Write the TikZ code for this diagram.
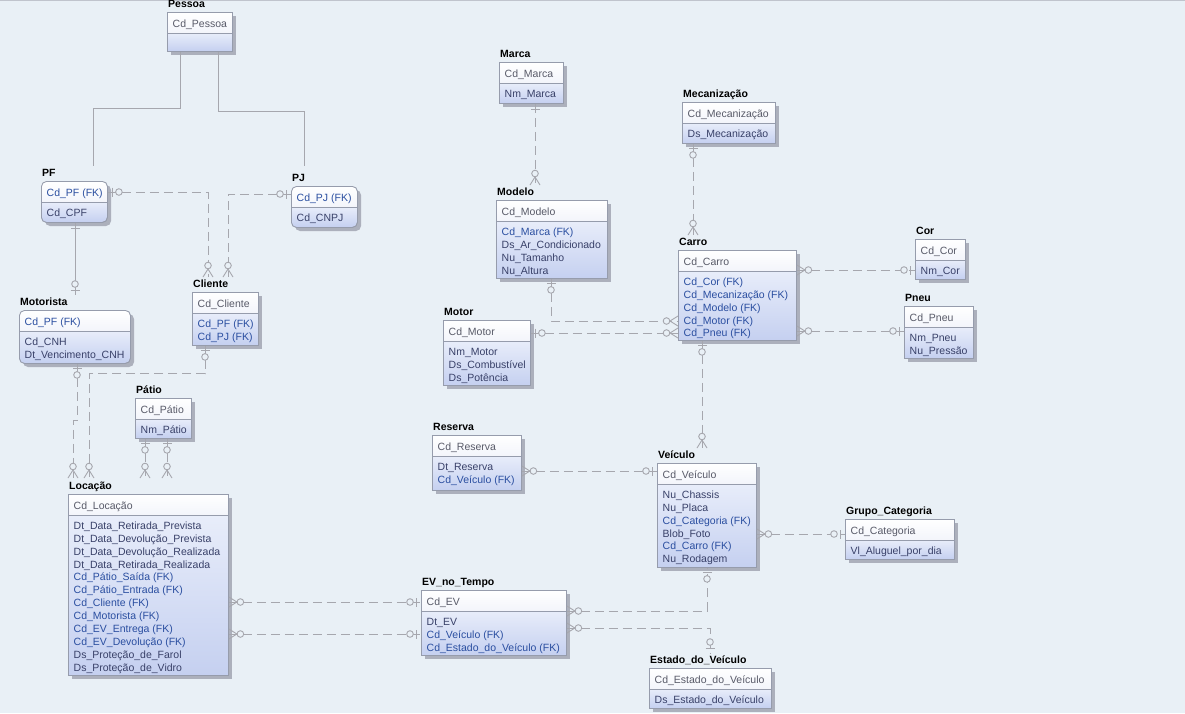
\documentclass[tikz,border=0pt]{standalone}
\usepackage{fontspec}
\setmainfont{Liberation Sans}
\usetikzlibrary{calc}

\definecolor{bgc}{RGB}{233,240,246}
\definecolor{linec}{RGB}{166,167,174}
\definecolor{boxc}{RGB}{150,156,172}
\definecolor{shadowc}{RGB}{172,176,188}
\definecolor{keyb}{RGB}{243,245,251}
\definecolor{attrt}{RGB}{232,237,250}
\definecolor{attrb}{RGB}{197,208,240}
\definecolor{keytxt}{RGB}{88,90,104}
\definecolor{attrtxt}{RGB}{56,64,104}
\definecolor{fktxt}{RGB}{42,78,160}

\tikzset{
  title/.style={font=\fontsize{10.5}{12.9}\selectfont\bfseries, text=black, inner sep=0pt},
  txt/.style={inner sep=0pt},
  txtk/.style={txt, text=keytxt},
  txta/.style={txt, text=attrtxt},
  txtf/.style={txt, text=fktxt},
  rel/.style={draw=linec, line width=1pt, dash pattern=on 9pt off 5pt},
  solidrel/.style={draw=linec, line width=1pt},
  symline/.style={draw=linec, line width=0.9pt, solid},
  symzo/.pic={\draw[symline] (4.5,-4.5) -- (4.5,4.5);
              \draw[symline, fill=bgc] (11,0) circle[radius=3.3];},
  symone/.pic={\draw[symline] (6,-4.5) -- (6,4.5);},
  symzm/.pic={\draw[symline] (0,-5) -- (8,0) -- (0,5);
              \draw[symline, fill=bgc] (11.5,0) circle[radius=3.3];},
  roundbox/.style={rounded corners=5pt}
}

% \erbox[options]{name}{x1}{y1}{x2}{y2}{title}{key row}{attribute rows}
\newcommand\erbox[9][]{%
  \pgfmathsetmacro\erbw{#5-#3}\pgfmathsetmacro\erbh{#6-#4}%
  \fill[shadowc,#1] (#3+4,#4+4) rectangle (#5+4,#6+4);
  \begin{scope}
    \clip[#1] (#3,#4) rectangle (#5,#6);
    \shade[top color=white, bottom color=keyb] (#3,#4) rectangle (#5,#4+21);
    \shade[top color=attrt, bottom color=attrb] (#3,#4+21) rectangle (#5,#6);
  \end{scope}
  \draw[boxc, line width=0.8pt] (#3,#4+21) -- (#5,#4+21);
  \node[draw=boxc, line width=0.9pt, #1, inner sep=0pt, minimum width=\erbw pt,
        minimum height=\erbh pt, anchor=north west] (#2) at (#3,#4) {};
  \node[title, anchor=base west] (#2-t) at (#3+1,#4-4.5) {#7};
  \foreach \s/\t in {#8} {\node[txt\s, anchor=base west] at (#3+5.5,#4+15) {\t};}
  \foreach \s/\t [count=\i] in {#9}
    {\node[txt\s, anchor=base west] at ({#3+5.5},{#4+35.3+(\i-1)*12.9}) {\t};}
}

\begin{document}
\catcode`\_=12
\begin{tikzpicture}[x=1pt, y=-1pt, font=\fontsize{10.5}{12.9}\selectfont]
\useasboundingbox (0,0) rectangle (1185,713);
\fill[bgc] (0,0) rectangle (1185,713);
\draw[boxc!60, line width=1pt] (0,0.5) -- (1185,0.5);

% entities
\erbox{pessoa}{167}{12}{232}{51}{Pessoa}{k/Cd_Pessoa}{}
\erbox[roundbox]{pf}{41}{181}{107}{222}{PF}{f/Cd_PF (FK)}{a/Cd_CPF}
\erbox[roundbox]{pj}{291}{186}{357}{227}{PJ}{f/Cd_PJ (FK)}{a/Cd_CNPJ}
\erbox[roundbox]{motorista}{19}{310}{130}{363}{Motorista}{f/Cd_PF (FK)}{a/Cd_CNH, a/Dt_Vencimento_CNH}
\erbox{cliente}{192}{292}{258}{345}{Cliente}{k/Cd_Cliente}{f/Cd_PF (FK), f/Cd_PJ (FK)}
\erbox{patio}{135}{398}{191}{438}{Pátio}{k/Cd_Pátio}{a/Nm_Pátio}
\erbox{locacao}{68}{494}{228}{675}{Locação}{k/Cd_Locação}{a/Dt_Data_Retirada_Prevista,
  a/Dt_Data_Devolução_Prevista, a/Dt_Data_Devolução_Realizada, a/Dt_Data_Retirada_Realizada,
  f/Cd_Pátio_Saída (FK), f/Cd_Pátio_Entrada (FK), f/Cd_Cliente (FK), f/Cd_Motorista (FK),
  f/Cd_EV_Entrega (FK), f/Cd_EV_Devolução (FK), a/Ds_Proteção_de_Farol, a/Ds_Proteção_de_Vidro}
\erbox{ev}{421}{590}{566}{655}{EV_no_Tempo}{k/Cd_EV}{a/Dt_EV, f/Cd_Veículo (FK), f/Cd_Estado_do_Veículo (FK)}
\erbox{estado}{649}{668}{771}{708}{Estado_do_Veículo}{k/Cd_Estado_do_Veículo}{a/Ds_Estado_do_Veículo}
\erbox{veiculo}{657}{463}{756}{567}{Veículo}{k/Cd_Veículo}{a/Nu_Chassis, a/Nu_Placa,
  f/Cd_Categoria (FK), a/Blob_Foto, f/Cd_Carro (FK), a/Nu_Rodagem}
\erbox{reserva}{432}{435}{521}{490}{Reserva}{k/Cd_Reserva}{a/Dt_Reserva, f/Cd_Veículo (FK)}
\erbox{grupo}{845}{519}{954}{559}{Grupo_Categoria}{k/Cd_Categoria}{a/Vl_Aluguel_por_dia}
\erbox{marca}{499}{62}{563}{103}{Marca}{k/Cd_Marca}{a/Nm_Marca}
\erbox{mec}{682}{102}{775}{143}{Mecanização}{k/Cd_Mecanização}{a/Ds_Mecanização}
\erbox{modelo}{496}{200}{607}{278}{Modelo}{k/Cd_Modelo}{f/Cd_Marca (FK), a/Ds_Ar_Condicionado,
  a/Nu_Tamanho, a/Nu_Altura}
\erbox{carro}{678}{250}{796}{340}{Carro}{k/Cd_Carro}{f/Cd_Cor (FK), f/Cd_Mecanização (FK),
  f/Cd_Modelo (FK), f/Cd_Motor (FK), f/Cd_Pneu (FK)}
\erbox{motor}{443}{320}{530}{385}{Motor}{k/Cd_Motor}{a/Nm_Motor, a/Ds_Combustível, a/Ds_Potência}
\erbox{cor}{915}{239}{965}{279}{Cor}{k/Cd_Cor}{a/Nm_Cor}
\erbox{pneu}{904}{306}{973}{358}{Pneu}{k/Cd_Pneu}{a/Nm_Pneu, a/Nu_Pressão}

% generalisation of Pessoa
\draw[solidrel] ([xshift=13pt]pessoa.south west) -- ++(0,57) -| ([shift={(52pt,15pt)}]pf.north west);
\draw[solidrel] ([xshift=51pt]pessoa.south west) -- ++(0,60) -| ([shift={(13pt,20pt)}]pj.north west);

% PF - Motorista (identifying)
\draw[solidrel] ([xshift=34pt]pf.south west) coordinate (s3) -- ([shift={(56pt,15pt)}]motorista.north west) coordinate (e3);
\pic[rotate=-90] at (s3) {symone}; \pic[rotate=90] at (e3) {symzo};

% PF / PJ - Cliente
\draw[rel] ([yshift=-11pt]pf.north east) coordinate (s4) -| ([shift={(16pt,15pt)}]cliente.north west) coordinate (e4);
\pic at (s4) {symzo}; \pic[rotate=90] at (e4) {symzm};
\draw[rel] ([yshift=-8pt]pj.north west) coordinate (s5) -| ([shift={(36pt,15pt)}]cliente.north west) coordinate (e5);
\pic[rotate=180] at (s5) {symzo}; \pic[rotate=90] at (e5) {symzm};

% Motorista / Cliente / Pátio - Locação
\draw[rel] ([xshift=58pt]motorista.south west) coordinate (s6) -- ++(0,57) -| ([shift={(5pt,16pt)}]locacao.north west) coordinate (e6);
\pic[rotate=-90] at (s6) {symzo}; \pic[rotate=90] at (e6) {symzm};
\draw[rel] ([xshift=13pt]cliente.south west) coordinate (s7) -- ++(0,28) -| ([shift={(21pt,16pt)}]locacao.north west) coordinate (e7);
\pic[rotate=-90] at (s7) {symzo}; \pic[rotate=90] at (e7) {symzm};
\draw[rel] ([xshift=10pt]patio.south west) coordinate (s8) -- ([shift={(77pt,16pt)}]locacao.north west) coordinate (e8);
\pic[rotate=-90] at (s8) {symzo}; \pic[rotate=90] at (e8) {symzm};
\draw[rel] ([xshift=32pt]patio.south west) coordinate (s9) -- ([shift={(99pt,16pt)}]locacao.north west) coordinate (e9);
\pic[rotate=-90] at (s9) {symzo}; \pic[rotate=90] at (e9) {symzm};

% Locação - EV_no_Tempo
\draw[rel] ([yshift=-108pt]locacao.north east) coordinate (s10) -- ([yshift=-12pt]ev.north west) coordinate (e10);
\pic at (s10) {symzm}; \pic[rotate=180] at (e10) {symzo};
\draw[rel] ([yshift=-140pt]locacao.north east) coordinate (s11) -- ([yshift=-44pt]ev.north west) coordinate (e11);
\pic at (s11) {symzm}; \pic[rotate=180] at (e11) {symzo};

% EV_no_Tempo - Veículo / Estado_do_Veículo
\draw[rel] ([yshift=-21pt]ev.north east) coordinate (s12) -| ([xshift=50pt]veiculo.south west) coordinate (e12);
\pic at (s12) {symzm}; \pic[rotate=-90] at (e12) {symzo};
\draw[rel] ([yshift=-38pt]ev.north east) coordinate (s13) -| ([shift={(61pt,15pt)}]estado.north west) coordinate (e13);
\pic at (s13) {symzm}; \pic[rotate=90] at (e13) {symzo};

% Reserva - Veículo, Veículo - Grupo_Categoria
\draw[rel] ([yshift=-36pt]reserva.north east) coordinate (s14) -- ([yshift=-8pt]veiculo.north west) coordinate (e14);
\pic at (s14) {symzm}; \pic[rotate=180] at (e14) {symzo};
\draw[rel] ([yshift=-71pt]veiculo.north east) coordinate (s15) -- ([yshift=-15pt]grupo.north west) coordinate (e15);
\pic at (s15) {symzm}; \pic[rotate=180] at (e15) {symzo};

% Carro and its parents
\draw[rel] ([xshift=24pt]carro.south west) coordinate (s16) -- ([shift={(45pt,15pt)}]veiculo.north west) coordinate (e16);
\pic[rotate=-90] at (s16) {symzo}; \pic[rotate=90] at (e16) {symzm};
\draw[rel] ([yshift=-20pt]carro.north east) coordinate (s17) -- ([yshift=-31pt]cor.north west) coordinate (e17);
\pic at (s17) {symzm}; \pic[rotate=180] at (e17) {symzo};
\draw[rel] ([yshift=-81pt]carro.north east) coordinate (s18) -- ([yshift=-25pt]pneu.north west) coordinate (e18);
\pic at (s18) {symzm}; \pic[rotate=180] at (e18) {symzo};
\draw[rel] ([xshift=55pt]modelo.south west) coordinate (s19) |- ([yshift=-71pt]carro.north west) coordinate (e19);
\pic[rotate=-90] at (s19) {symzo}; \pic[rotate=180] at (e19) {symzm};
\draw[rel] ([yshift=-13pt]motor.north east) coordinate (s20) -- ([yshift=-83pt]carro.north west) coordinate (e20);
\pic at (s20) {symzo}; \pic[rotate=180] at (e20) {symzm};
\draw[rel] ([xshift=36pt]marca.south west) coordinate (s21) -- ([shift={(39pt,15pt)}]modelo.north west) coordinate (e21);
\pic[rotate=-90] at (s21) {symone}; \pic[rotate=90] at (e21) {symzm};
\draw[rel] ([xshift=11pt]mec.south west) coordinate (s22) -- ([shift={(15pt,15pt)}]carro.north west) coordinate (e22);
\pic[rotate=-90] at (s22) {symzo}; \pic[rotate=90] at (e22) {symzm};
\end{tikzpicture}
\end{document}
